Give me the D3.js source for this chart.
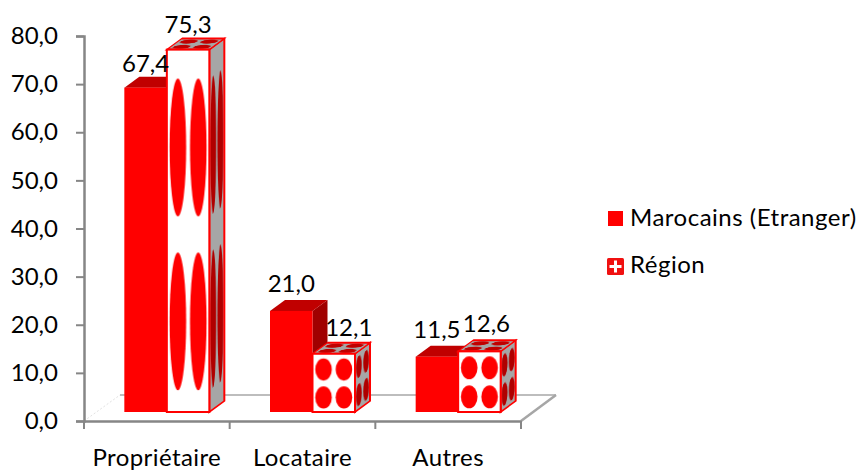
<!DOCTYPE html>
<html><head><meta charset="utf-8">
<script src="https://cdn.jsdelivr.net/npm/d3@7/dist/d3.min.js"></script>
<style>
html,body{margin:0;padding:0;background:#fff}
svg{display:block}
text{font-family:Lato,"Open Sans",sans-serif;fill:#000}
</style></head><body><svg id="c" width="860" height="472"></svg>
<script>
const categories = ["Propriétaire", "Locataire", "Autres"];
const seriesNames = ["Marocains (Etranger)", "Région"];
const marocains = [67.4, 21.0, 11.5];
const region = [75.3, 12.1, 12.6];
const yTicks = [0, 10, 20, 30, 40, 50, 60, 70, 80];

const FS = 24, DX = 15, DY = 11, BAR = 42.5, LIFT = 9, SHIFT = 10;
const svg = d3.select("#c");
const x = d3.scaleBand().domain(categories).range([84, 521]);
const y = d3.scaleLinear().domain([0, 80]).range([421, 36]);
const fmt = v => v.toFixed(1).replace(".", ",");

// picture fill of the "Région" bars
const defs = svg.append("defs");
function dots(id, bg, fg) {
  const p = defs.append("pattern").attr("id", id)
    .attr("patternUnits", "objectBoundingBox").attr("patternContentUnits", "objectBoundingBox")
    .attr("width", 1).attr("height", 1);
  p.append("rect").attr("width", 1).attr("height", 1).attr("fill", bg);
  [[.26, .27], [.74, .27], [.26, .75], [.74, .75]].forEach(c =>
    p.append("ellipse").attr("cx", c[0]).attr("cy", c[1]).attr("rx", .195).attr("ry", .19).attr("fill", fg));
}
dots("pf", "#fff", "#ff0000");
dots("pt", "#a6a6a6", "#c00000");
dots("ps", "#a6a6a6", "#b00000");

// floor
const floor = svg.append("g").attr("fill", "none");
floor.append("line").attr("x1", 120).attr("x2", 556).attr("y1", 395).attr("y2", 395).attr("stroke", "#bdbdbd").attr("stroke-width", 2);
floor.append("line").attr("x1", 84).attr("x2", 120).attr("y1", 421).attr("y2", 395).attr("stroke", "#e2e2e2").attr("stroke-dasharray", "2 2");
floor.append("line").attr("x1", 521).attr("x2", 556).attr("y1", 421).attr("y2", 395).attr("stroke", "#a6a6a6").attr("stroke-width", 2.5);

// axes
const gy = svg.append("g").attr("transform", "translate(84,0)")
  .call(d3.axisLeft(y).tickValues(yTicks).tickFormat(fmt).tickSize(8).tickPadding(18));
const gx = svg.append("g").attr("transform", "translate(0,421)")
  .call(d3.axisBottom(x).tickValues([]).tickSize(0));
gx.selectAll(".tk").data([0, 1, 2, 3]).enter().append("line").attr("class", "tk")
  .attr("x1", i => 84 + i * x.step()).attr("x2", i => 84 + i * x.step())
  .attr("y1", 0).attr("y2", 8).attr("stroke", "#868686").attr("stroke-width", 2);
[gy, gx].forEach(g => {
  g.selectAll("path").attr("stroke", "#868686").attr("stroke-width", 2.5);
  g.selectAll(".tick line").attr("stroke", "#868686").attr("stroke-width", 2);
});
gy.selectAll("text").attr("font-size", FS).attr("font-family", "Lato");
svg.append("g").selectAll("text").data(categories).enter().append("text")
  .attr("x", d => x(d) + x.bandwidth() / 2).attr("y", 466)
  .attr("text-anchor", "middle").attr("font-size", FS).attr("letter-spacing", .4).text(d => d);

// bars
const bars = svg.append("g");
function bar3d(cat, v, k) {
  const x0 = x(cat) + x.bandwidth() / 2 + SHIFT + (k - 1) * BAR;
  const yb = y(0) - LIFT, yt = y(v) - LIFT, h = yb - yt;
  const g = bars.append("g");
  const solid = k === 0;
  const line = solid ? "none" : "#ff0000", sw = solid ? 0 : 2;
  g.append("rect").attr("width", DX).attr("height", h)
    .attr("transform", `matrix(1,${-DY / DX},0,1,${x0 + BAR},${yt})`)
    .attr("fill", solid ? "#a00000" : "url(#ps)").attr("stroke", line).attr("stroke-width", sw);
  g.append("rect").attr("width", BAR).attr("height", DY).attr("y", -DY)
    .attr("transform", `matrix(1,0,${-DX / DY},1,${x0},${yt})`)
    .attr("fill", solid ? "#c00000" : "url(#pt)").attr("stroke", line).attr("stroke-width", sw);
  g.append("rect").attr("x", x0).attr("y", yt).attr("width", BAR).attr("height", h)
    .attr("fill", solid ? "#ff0000" : "url(#pf)").attr("stroke", line).attr("stroke-width", sw);
}
categories.forEach((c, i) => { bar3d(c, marocains[i], 0); bar3d(c, region[i], 1); });

// data labels
const nudge = [[[0, 16], [0, 17]], [[0, 19], [15, 18]], [[0, 19], [7, 19]]];
categories.forEach((c, i) => [marocains[i], region[i]].forEach((v, k) => {
  svg.append("text")
    .attr("x", x(c) + x.bandwidth() / 2 + SHIFT + (k - 1) * BAR + BAR / 2 + nudge[i][k][0])
    .attr("y", y(v) - LIFT - nudge[i][k][1])
    .attr("text-anchor", "middle").attr("font-size", FS).text(fmt(v));
}));

// legend
const lg = svg.append("g");
lg.append("rect").attr("x", 608).attr("y", 211).attr("width", 15).attr("height", 15).attr("fill", "#ff0000");
lg.append("rect").attr("x", 607).attr("y", 258).attr("width", 17).attr("height", 17).attr("rx", 1.5).attr("fill", "#f01010");
lg.append("path").attr("d", "M615.5 260.5v12M609.5 266.5h12").attr("stroke", "#fff").attr("stroke-width", 3);
seriesNames.forEach((n, i) => lg.append("text").attr("x", 630).attr("y", 226 + i * 47)
  .attr("font-size", FS).attr("letter-spacing", .5).text(n));
</script></body></html>
